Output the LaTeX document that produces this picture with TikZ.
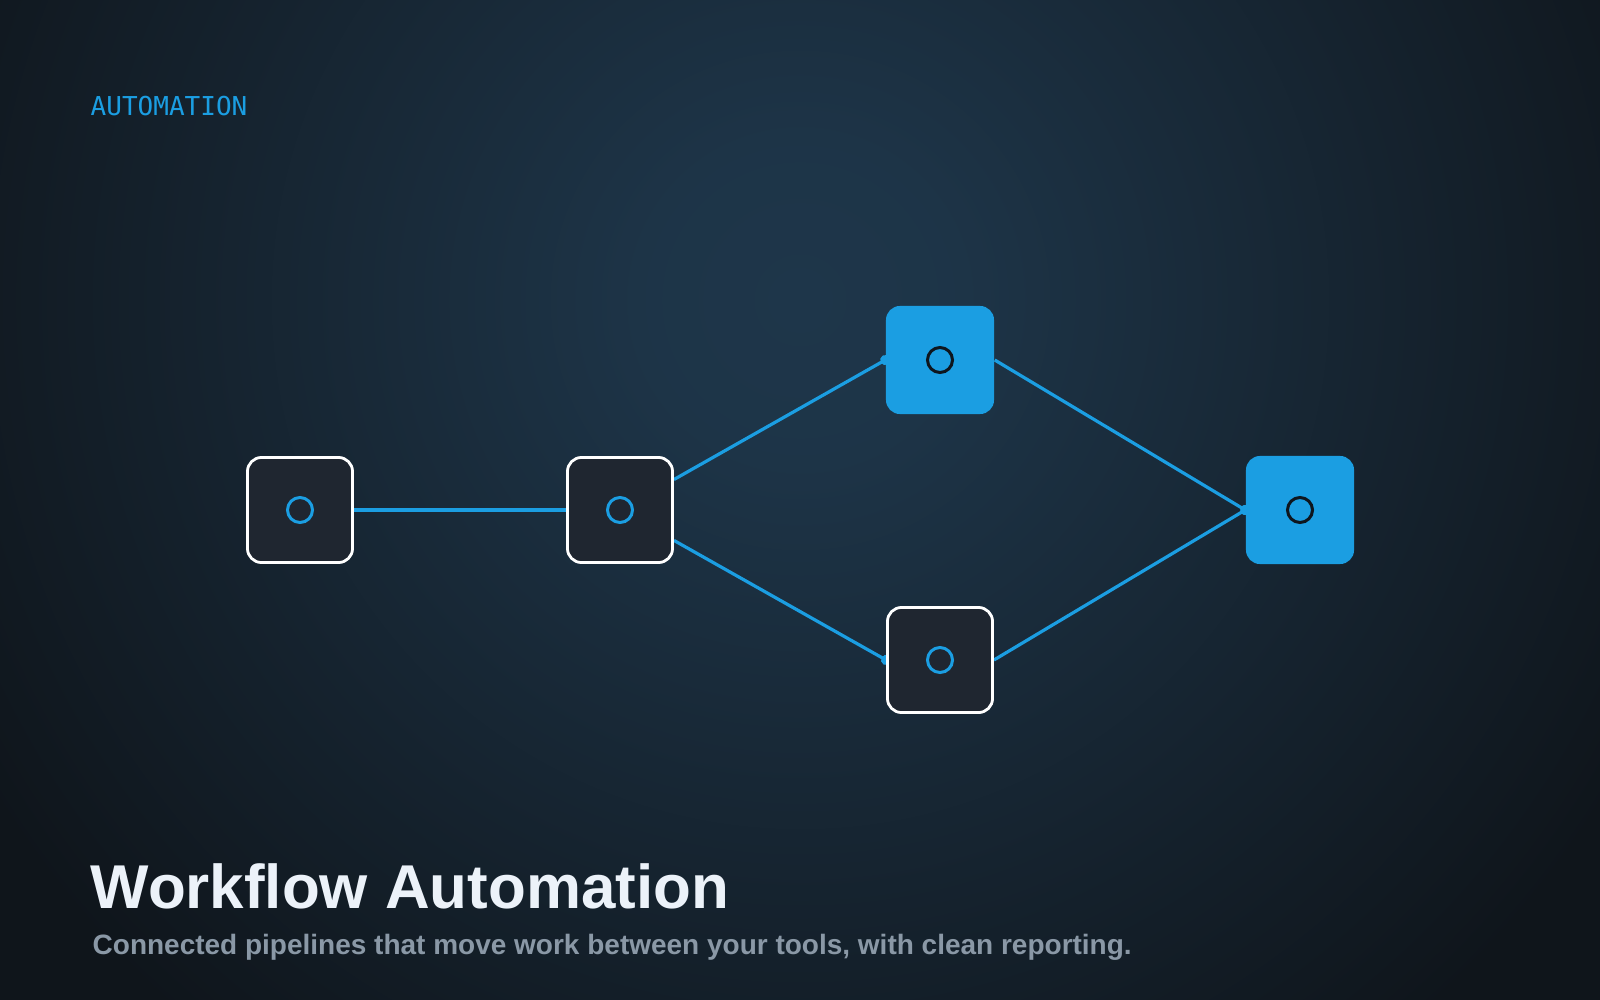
\documentclass[tikz,border=0pt]{standalone}
\usepackage{fontspec}
\setmainfont{Liberation Sans}
\newfontfamily\labelmono{DejaVu Sans Mono}
\usepackage{tikz}
\usetikzlibrary{positioning, arrows.meta, backgrounds}
\definecolor{bgdark}{RGB}{15,21,27}
\definecolor{bgglow}{RGB}{30,54,74}
\definecolor{accent}{RGB}{27,158,226}
\definecolor{tilebg}{RGB}{31,38,48}
\definecolor{titlefg}{RGB}{236,242,249}
\definecolor{subfg}{RGB}{138,152,166}
\definecolor{ringdark}{RGB}{14,22,30}
\pgfdeclareradialshading{glow}{\pgfpoint{0bp}{0bp}}{color(0bp)=(bgglow); color(4bp)=(bgglow!95!bgdark); color(15bp)=(bgglow!45!bgdark); color(25bp)=(bgdark); color(50bp)=(bgdark)}

\begin{document}
\begin{tikzpicture}[x=0.01cm, y=-0.01cm,
    tile/.style={draw=white, line width=0.028cm, fill=tilebg, rounded corners=0.14cm, minimum size=1.05cm, inner sep=0pt,
        path picture={\draw[accent, line width=0.03cm] (path picture bounding box.center) circle (0.125cm);}},
    hot/.style={fill=accent, rounded corners=0.14cm, minimum size=1.08cm, inner sep=0pt,
        path picture={\draw[ringdark, line width=0.03cm] (path picture bounding box.center) circle (0.125cm);}},
    wire/.style={accent, line width=0.032cm},
    dotend/.style={-{Circle[length=0.1cm]}, shorten >=-0.05cm}]
        \useasboundingbox (0,0) rectangle (1600,1000);

        % Background
        \begin{pgfonlayer}{background}
        \fill[bgdark] (0,0) rectangle (1600,1000);
        \begin{scope}
            \clip (0,0) rectangle (1600,1000);
            \shade[shading=glow] (800,300) circle (9.5cm);
        \end{scope}
        \end{pgfonlayer}

        % Tiles
        \node[tile] (src) at (300,510) {};
        \node[tile] (hub) at (620,510) {};
        \node[hot] (up) at (940,360) {};
        \node[tile] (down) at (940,660) {};
        \node[hot] (out) at (1300,510) {};

        % Links
        \begin{pgfonlayer}{background}
        \draw[wire] (src) -- (hub);
        \draw[wire, dotend] (hub) -- (up.west);
        \draw[wire, dotend] (hub) -- (down.west);
        \draw[wire, dotend] (up.east) -- (out.west);
        \draw[wire, dotend] (down.east) -- (out.west);
        \end{pgfonlayer}

        % Text
        \node[anchor=base west, inner sep=0pt, text=accent, font=\labelmono\fontsize{7.4pt}{9pt}\selectfont] (tag) at (90,115) {AUTOMATION};
        \node[anchor=base west, inner sep=0pt, text=titlefg, font=\bfseries\fontsize{17.6pt}{21pt}\selectfont] (title) at (90,908) {Workflow Automation};
        \node[anchor=base west, inner sep=0pt, text=subfg, font=\bfseries\fontsize{7.96pt}{10pt}\selectfont] (sub) at (92,954) {Connected pipelines that move work between your tools, with clean reporting.};
    \end{tikzpicture}
\end{document}
